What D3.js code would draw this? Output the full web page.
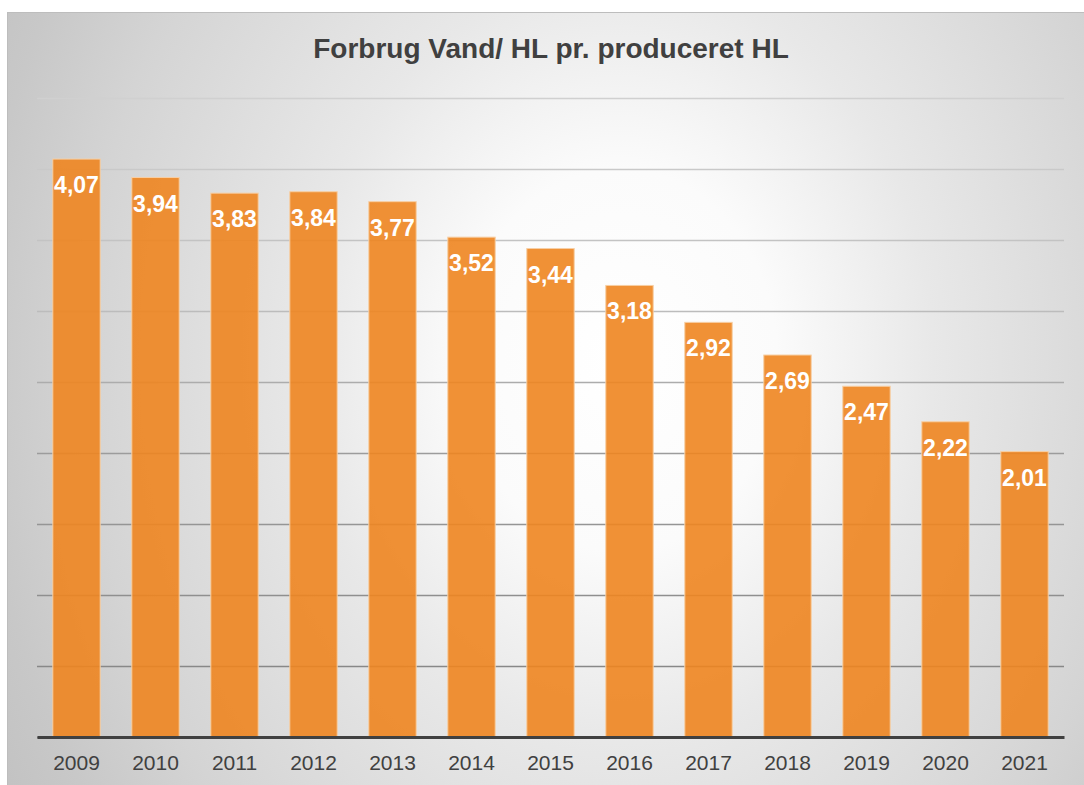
<!DOCTYPE html>
<html>
<head>
<meta charset="utf-8">
<script src="https://cdn.jsdelivr.net/npm/d3@7"></script>
<style>
    body { margin: 0; background: #fff; }
    svg { display: block; font-family: "Liberation Sans", Arial, sans-serif; }
</style>
</head>
<body>
<div id="chart"></div>
<script>
// Dữ liệu
const years = ["2009", "2010", "2011", "2012", "2013", "2014", "2015", "2016", "2017", "2018", "2019", "2020", "2021"];
const values = [4.07, 3.94, 3.83, 3.84, 3.77, 3.52, 3.44, 3.18, 2.92, 2.69, 2.47, 2.22, 2.01];
const gridTicks = [0, 0.5, 1, 1.5, 2, 2.5, 3, 3.5, 4, 4.5];
const title = "Forbrug Vand/ HL pr. produceret HL";

const W = 1084, H = 785;
const plot = { left: 37, right: 1064, top: 98, bottom: 737 };

const svg = d3.select("#chart").append("svg")
    .attr("width", W)
    .attr("height", H);

const defs = svg.append("defs");

// Nền gradient xám - trắng
const bg = defs.append("radialGradient")
    .attr("id", "bgGrad")
    .attr("gradientUnits", "userSpaceOnUse")
    .attr("cx", 0).attr("cy", 0).attr("r", 1)
    .attr("gradientTransform", "translate(620,360) scale(713,870)");
[[0, "#ffffff"], [0.22, "#fbfbfb"], [0.44, "#e8e8e8"], [0.75, "#d4d4d4"], [0.9, "#c8c8c8"], [1, "#c2c2c2"]]
    .forEach(([o, c]) => bg.append("stop").attr("offset", o).attr("stop-color", c));

svg.append("rect")
    .attr("x", 7.5).attr("y", 12.5)
    .attr("width", 1090).attr("height", 780)
    .attr("fill", "url(#bgGrad)")
    .attr("stroke", "#bdbdbd")
    .attr("stroke-width", 1);

// Thang đo
const x = d3.scaleBand()
    .domain(years)
    .range([plot.left, plot.right])
    .paddingInner(0.4)
    .paddingOuter(0.2);

const y = d3.scaleLinear()
    .domain([0, 4.5])
    .range([plot.bottom, plot.top]);

// màu lưới: nhạt ở trên, đậm ở dưới
const gridColor = d3.scaleLinear()
    .domain([4.5, 3, 2, 0.5])
    .range(["#d0d0d0", "#bcbcbc", "#9c9c9c", "#888888"])
    .clamp(true);

// Lưới ngang
svg.append("g")
    .attr("transform", `translate(${plot.left},0)`)
    .call(d3.axisLeft(y).tickValues(gridTicks).tickSize(-(plot.right - plot.left)).tickFormat(""))
    .call(g => g.select(".domain").remove())
    .call(g => g.selectAll(".tick line").attr("stroke", d => gridColor(d)).attr("stroke-width", 1.3));

// Cột
svg.selectAll(".bar")
    .data(values)
    .enter()
    .append("rect")
    .attr("class", "bar")
    .attr("x", (d, i) => x(years[i]))
    .attr("y", d => y(d))
    .attr("width", x.bandwidth())
    .attr("height", d => y(0) - y(d))
    .attr("fill", "#ee8520")
    .attr("fill-opacity", 0.9)
    .attr("stroke", "#f7cfa4")
    .attr("stroke-width", 1);

// Nhãn số liệu (dấu phẩy thập phân)
const fmt = d3.formatLocale({ decimal: ",", thousands: ".", grouping: [3], currency: ["", ""] }).format(".2f");
svg.selectAll(".label")
    .data(values)
    .enter()
    .append("text")
    .attr("class", "label")
    .attr("x", (d, i) => x(years[i]) + x.bandwidth() / 2)
    .attr("y", d => y(d) + 34)
    .attr("text-anchor", "middle")
    .attr("fill", "#ffffff")
    .style("font-size", "23px")
    .style("font-weight", "bold")
    .text(d => fmt(d));

// Trục X
svg.append("g")
    .attr("transform", `translate(0,${plot.bottom})`)
    .call(d3.axisBottom(x).tickSize(0).tickPadding(18))
    .call(g => g.select(".domain").attr("stroke", "#404040").attr("stroke-width", 3))
    .call(g => g.selectAll("text").attr("fill", "#404040").style("font-size", "21px").style("font-family", "\"Liberation Sans\", Arial, sans-serif"));

// Tiêu đề
svg.append("text")
    .attr("x", 551)
    .attr("y", 58)
    .attr("text-anchor", "middle")
    .attr("fill", "#404040")
    .style("font-size", "28px")
    .style("font-weight", "bold")
    .text(title);
</script>
</body>
</html>
